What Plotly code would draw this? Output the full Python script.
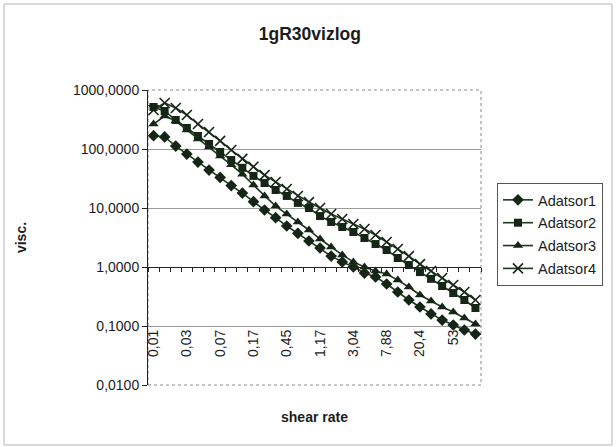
import plotly.graph_objects as go

# ---- data ----
shear_rate = ["0,01", "0,01", "0,02", "0,03", "0,04", "0,05", "0,07", "0,09", "0,13", "0,17",
              "0,24", "0,33", "0,45", "0,62", "0,85", "1,17", "1,61", "2,21", "3,04", "4,18",
              "5,74", "7,88", "10,8", "14,9", "20,4", "28,1", "38,6", "53", "72,8", "100"]

adatsor1 = [168, 160, 112, 82, 60, 44, 33, 24, 17.9, 12.8,
            9.25, 6.85, 4.95, 3.72, 2.76, 2.10, 1.53, 1.22, 1.0, 0.79,
            0.68, 0.515, 0.377, 0.276, 0.21, 0.16, 0.126, 0.104, 0.0855, 0.073]
adatsor2 = [515, 441, 310, 227, 166, 122, 89, 65, 48, 35,
            26.5, 20.2, 16, 12.2, 10, 7.3, 5.8, 4.76, 3.92, 3.1,
            2.45, 1.94, 1.42, 1.08, 0.82, 0.63, 0.476, 0.362, 0.276, 0.202]
adatsor3 = [265, 362, 298, 210, 148, 108, 76, 54, 37.5, 24.5,
            16, 10.8, 7.9, 5.8, 4.24, 2.98, 2.18, 1.60, 1.22, 1.0,
            0.855, 0.76, 0.60, 0.458, 0.335, 0.265, 0.21, 0.173, 0.137, 0.108]
adatsor4 = [458, 602, 495, 377, 265, 194, 137, 96, 68, 50,
            36, 27.6, 21, 16, 12.6, 10, 7.9, 6.5, 5.36, 4.4,
            3.48, 2.65, 2.02, 1.53, 1.12, 0.855, 0.65, 0.495, 0.377, 0.276]

series_names = ["Adatsor1", "Adatsor2", "Adatsor3", "Adatsor4"]
y_tick_values = [0.01, 0.1, 1, 10, 100, 1000]
y_tick_labels = ["0,0100", "0,1000", "1,0000", "10,0000", "100,0000", "1000,0000"]

# ---- figure ----
FONT = "Liberation Sans, Arial, sans-serif"
INK = "#162616"
LINE = "#1e361e"
TXT = "#1c1c1c"

x_index = list(range(len(shear_rate)))
series = [adatsor1, adatsor2, adatsor3, adatsor4]
markers = [
    dict(symbol="diamond", size=9, color=INK),
    dict(symbol="square", size=8, color=INK),
    dict(symbol="triangle-up", size=9, color=INK),
    dict(symbol="x-thin", size=10, color=INK, line=dict(width=1.6, color=INK)),
]

fig = go.Figure()
for name, vals, mk in zip(series_names, series, markers):
    fig.add_trace(go.Scatter(
        x=x_index, y=vals, name=name, mode="lines+markers",
        line=dict(color=LINE, width=1.6), marker=mk, legendgroup=name,
    ))

# invisible helper trace so the crossing category axis (at y = 1) is drawn
fig.add_trace(go.Scatter(x=x_index, y=adatsor1, xaxis="x2", mode="markers",
                         marker=dict(opacity=0), hoverinfo="skip", showlegend=False))

n = len(shear_rate)
fig.update_layout(
    width=616, height=447,
    margin=dict(l=148, r=135, t=90, b=62),
    paper_bgcolor="white", plot_bgcolor="white",
    font=dict(family=FONT, size=14, color=TXT),
    title=dict(text="<b>1gR30vizlog</b>", x=0.503, xref="container", xanchor="center",
               y=0.925, yref="container", yanchor="middle",
               font=dict(size=17.5, family=FONT, color=TXT)),
    showlegend=True,
    legend=dict(x=1.048, y=0.685, xanchor="left", yanchor="top",
                bordercolor="#555", borderwidth=1, bgcolor="white",
                font=dict(size=14.5, family=FONT), tracegroupgap=1),
    xaxis=dict(
        anchor="free", position=0.2, range=[-0.5, n - 0.5],
        tickvals=x_index[::3], ticktext=shear_rate[::3], tickangle=-90,
        showline=False, ticks="", showgrid=False, zeroline=False,
        tickfont=dict(size=14, family=FONT),
        title=dict(text="<b>shear rate</b>", standoff=56, font=dict(size=14, family=FONT)),
    ),
    xaxis2=dict(
        overlaying="x", anchor="free", position=0.4, range=[-0.5, n - 0.5],
        tickvals=[i - 0.5 for i in range(n + 1)], showticklabels=False,
        ticks="outside", ticklen=4, tickcolor="#222", showline=True, linecolor="#222",
        linewidth=1, showgrid=False, zeroline=False,
    ),
    yaxis=dict(
        type="log", range=[-2, 3], tickvals=y_tick_values, ticktext=y_tick_labels,
        ticks="outside", ticklen=5, tickcolor="#222", showline=True, linecolor="#222",
        gridcolor="#9a9a9a", gridwidth=1, zeroline=False,
        tickfont=dict(size=14, family=FONT),
        title=dict(text="<b>visc.</b>", standoff=43, font=dict(size=14, family=FONT)),
    ),
    shapes=[
        dict(type="rect", xref="paper", yref="paper", x0=0, x1=1, y0=0, y1=1,
             line=dict(color="#8a8a8a", width=1, dash="dot"), layer="below"),
        dict(type="rect", xref="paper", yref="paper", x0=-0.4324, x1=1.3934,
             y0=-0.2034, y1=1.2915, line=dict(color="#b5b5b5", width=1)),
    ],
)

fig.write_html("out.html", config={"displayModeBar": False},
               post_script="document.body.style.margin='0';")
